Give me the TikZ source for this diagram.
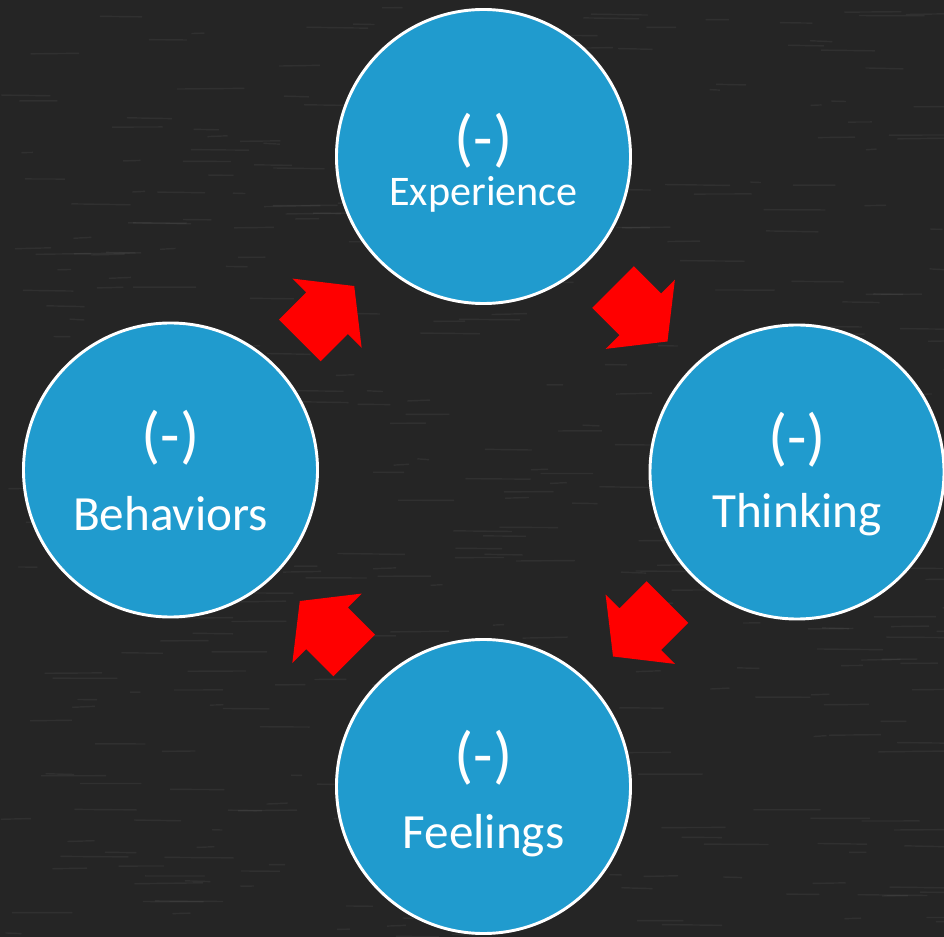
\documentclass[tikz,border=0pt]{standalone}
\usepackage{fontspec}
\setmainfont{Carlito}
\usetikzlibrary{calc}

\definecolor{board}{RGB}{37,37,37}
\definecolor{bubble}{RGB}{32,155,206}
\definecolor{arrowred}{RGB}{255,0,0}

\tikzset{
  stage/.style={circle, draw=white, line width=2.5pt, fill=bubble, inner sep=0pt, minimum size=8.82cm},
  sign/.style={text=white, inner sep=0pt, font=\fontsize{54}{54}\selectfont},
  word/.style={text=white, inner sep=0pt, anchor=base, font=\fontsize{42}{42}\selectfont},
  % fat red arrow, tail to tip along +x
  flow/.pic={\fill[arrowred] (-38.5,-29.5) -- (0,-29.5) -- (0,-49) -- (38.5,0)
                              -- (0,49) -- (0,29.5) -- (-38.5,29.5) -- cycle;}
}

\begin{document}
\begin{tikzpicture}[x=0.03cm, y=0.03cm]
  % chalkboard
  \fill[board] (0,0) rectangle (944,-937);
  \useasboundingbox (0,0) rectangle (944,-937);
  \pgfmathsetseed{11}
  \foreach \k in {1,...,400}{
    \pgfmathsetmacro{\px}{rnd*944}
    \pgfmathsetmacro{\py}{-rnd*937}
    \pgfmathsetmacro{\pl}{10+rnd*60}
    \draw[white, opacity=0.05, line width=1.2pt] (\px,\py) -- ++(\pl,rnd*2-1);
  }

  % the four stages
  \node[stage] (exp) at (483.5,-156.5) {};
  \node[stage] (thk) at (797,-472) {};
  \node[stage] (fee) at (483.5,-786.5) {};
  \node[stage] (beh) at (170.5,-470) {};

  \node[sign] (exp-s) at ($(exp)+(0,16)$) {(-)};
  \node[word, font=\fontsize{36}{36}\selectfont] (exp-w) at ($(exp)+(0,-49.5)$) {Experience};
  \node[sign] (thk-s) at ($(thk)+(0,32.5)$) {(-)};
  \node[word] (thk-w) at ($(thk)+(0,-56)$) {Thinking};
  \node[sign] (fee-s) at ($(fee)+(0,29)$) {(-)};
  \node[word] (fee-w) at ($(fee)+(0,-61.5)$) {Feelings};
  \node[sign] (beh-s) at ($(beh)+(0,32.5)$) {(-)};
  \node[word] (beh-w) at ($(beh)+(0,-61)$) {Behaviors};

  % arrows half way between the circles
  \pic[rotate=-45]  at ($(exp)!0.5!(thk)$) {flow};
  \pic[rotate=-135] at ($(thk)!0.5!(fee)$) {flow};
  \pic[rotate=135]  at ($(fee)!0.5!(beh)$) {flow};
  \pic[rotate=45]   at ($(beh)!0.5!(exp)$) {flow};
\end{tikzpicture}
\end{document}
